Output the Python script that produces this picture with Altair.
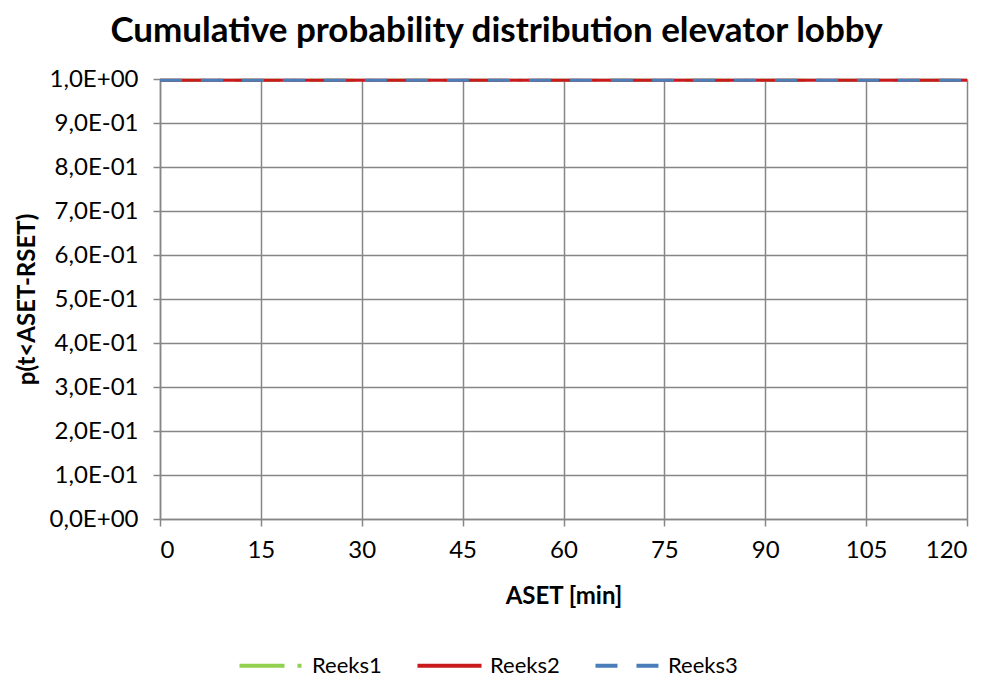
import altair as alt
import pandas as pd

# Data
aset_min = [0, 15, 30, 45, 60, 75, 90, 105, 120]
reeks1 = [0.997, 0.997, 0.997, 0.997, 0.997, 0.997, 0.997, 0.997, 0.997]
reeks2 = [0.997, 0.997, 0.997, 0.997, 0.997, 0.997, 0.997, 0.997, 0.997]
reeks3 = [0.997, 0.997, 0.997, 0.997, 0.997, 0.997, 0.997, 0.997, 0.997]
series_names = ["Reeks1", "Reeks2", "Reeks3"]
y_ticks = [0.0, 0.1, 0.2, 0.3, 0.4, 0.5, 0.6, 0.7, 0.8, 0.9, 1.0]
y_tick_labels = ["0,0E+00", "1,0E-01", "2,0E-01", "3,0E-01", "4,0E-01", "5,0E-01",
                 "6,0E-01", "7,0E-01", "8,0E-01", "9,0E-01", "1,0E+00"]
x_ticks = [0, 15, 30, 45, 60, 75, 90, 105, 120]

rows = []
for name, vals in zip(series_names, [reeks1, reeks2, reeks3]):
    for i, (x, y) in enumerate(zip(aset_min, vals)):
        rows.append({"ASET": x, "p": y, "series": name, "order": i})
df = pd.DataFrame(rows)

label_array = "[" + ",".join("'" + s + "'" for s in y_tick_labels) + "]"

FONT = "Lato"
GRID = "#868686"
FS = 24

legend = alt.Legend(title=None, orient="none", direction="horizontal",
                    legendX=77, legendY=552,
                    symbolType="stroke", symbolSize=4100,
                    symbolStrokeWidth=4, labelFontSize=22,
                    labelFont=FONT, labelColor="#000000",
                    labelOffset=6, columnPadding=27)

chart = alt.Chart(df).mark_line(strokeWidth=3).encode(
    x=alt.X("ASET:Q",
            scale=alt.Scale(domain=[0, 120], nice=False, zero=False),
            axis=alt.Axis(values=x_ticks, title="ASET [min]", grid=True,
                          gridColor=GRID, gridWidth=1.5, domainColor=GRID,
                          domainWidth=1.5, tickColor=GRID, tickWidth=1.5,
                          tickSize=7, labelFontSize=FS, labelFont=FONT,
                          labelColor="#000000", labelPadding=12,
                          titleFont=FONT, titleFontSize=FS, titleFontWeight="bold",
                          titleColor="#000000", titlePadding=22)),
    y=alt.Y("p:Q",
            scale=alt.Scale(domain=[0, 1], nice=False, zero=False),
            axis=alt.Axis(values=y_ticks, title="p(t<ASET-RSET)", grid=True,
                          labelExpr=label_array + "[round(datum.value*10)]",
                          gridColor=GRID, gridWidth=1.5, domainColor=GRID,
                          domainWidth=1.5, tickColor=GRID, tickWidth=1.5,
                          tickSize=7, labelFontSize=FS, labelFont=FONT,
                          labelColor="#000000", labelPadding=15,
                          titleFont=FONT, titleFontSize=FS, titleFontWeight="bold",
                          titleColor="#000000", titlePadding=10)),
    color=alt.Color("series:N",
                    scale=alt.Scale(domain=series_names,
                                    range=["#92D050", "#C8191C", "#4A7EBB"]),
                    legend=legend),
    strokeDash=alt.StrokeDash("series:N",
                              scale=alt.Scale(domain=series_names,
                                              range=[[45, 13, 4, 13], [1, 0], [22, 19]]),
                              legend=legend),
    order="order:Q",
).properties(
    width=807,
    height=440,
    autosize="none",
    padding={"left": 152, "top": 71, "right": 18, "bottom": 158},
    title=alt.TitleParams("Cumulative probability distribution elevator lobby",
                          font=FONT, fontSize=35, fontWeight="bold", color="#000000",
                          anchor="middle", dx=-67, offset=18),
).configure_view(stroke=None).configure(background="#ffffff")

chart.save("out.html", embed_options={"renderer": "svg", "actions": False})
